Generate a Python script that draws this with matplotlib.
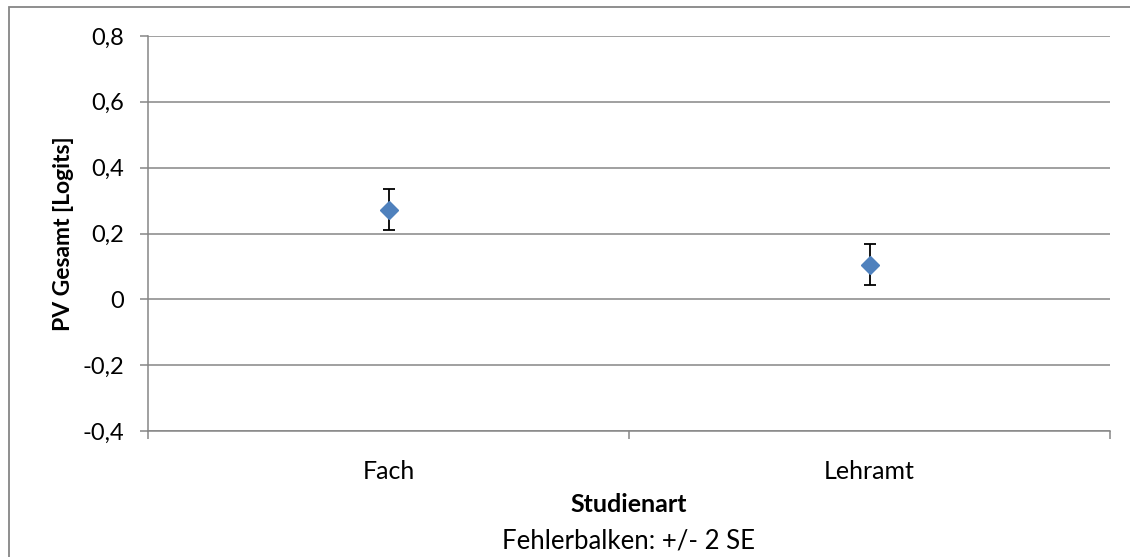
import numpy as np
import matplotlib.pyplot as plt
from matplotlib.patches import Rectangle

categories = ['Fach', 'Lehramt']
means = [0.272, 0.105]
err_2se = [0.062, 0.062]
y_ticks = [-0.4, -0.2, 0, 0.2, 0.4, 0.6, 0.8]
y_tick_labels = ['-0,4', '-0,2', '0', '0,2', '0,4', '0,6', '0,8']

plt.rcParams['font.family'] = ['Lato', 'DejaVu Sans']
grid_col = '#868686'

fig = plt.figure(figsize=(11.3, 5.57), dpi=100)
W, H = 1130, 557
ax = fig.add_axes([148 / W, 1 - 431 / H, (1110 - 148) / W, (431 - 36) / H])

x = np.arange(1, len(categories) + 1)
ax.errorbar(x, means, yerr=err_2se, fmt='D', color='#4F81BD', markersize=8.8,
            ecolor='black', elinewidth=1.3, capsize=4.2, capthick=1.3, zorder=3)

ax.set_xlim(0.5, len(categories) + 0.5)
ax.set_ylim(-0.4, 0.8)
ax.set_yticks(y_ticks)
ax.set_yticklabels(y_tick_labels)
ax.yaxis.grid(True, color=grid_col, linewidth=1.1)
ax.set_axisbelow(True)

ax.set_xticks(x)
ax.set_xticklabels(categories)
ax.set_xticks(np.arange(0.5, len(categories) + 1, 1.0), minor=True)
ax.tick_params(axis='x', which='major', length=0, pad=21, labelsize=18)
ax.tick_params(axis='x', which='minor', length=6, width=1.1, color=grid_col)
ax.tick_params(axis='y', length=6, width=1.1, color=grid_col, pad=11, labelsize=17)

for s in ['top', 'right']:
    ax.spines[s].set_visible(False)
for s in ['left', 'bottom']:
    ax.spines[s].set_color(grid_col)
    ax.spines[s].set_linewidth(1.1)

ax.set_ylabel('PV Gesamt [Logits]', fontsize=16.5, fontweight='bold', labelpad=6)
fig.text(629 / W, 1 - 512 / H, 'Studienart', ha='center', va='baseline',
         fontsize=18, fontweight='bold')
fig.text(629 / W, 1 - 548 / H, 'Fehlerbalken: +/- 2 SE', ha='center', va='baseline', fontsize=18.5)

fig.patches.append(Rectangle((9 / W, -0.1), 1.2, 1 - 7 / H + 0.1, transform=fig.transFigure,
                             fill=False, edgecolor=grid_col, linewidth=1.3))

fig.savefig('out.png', dpi=100)
